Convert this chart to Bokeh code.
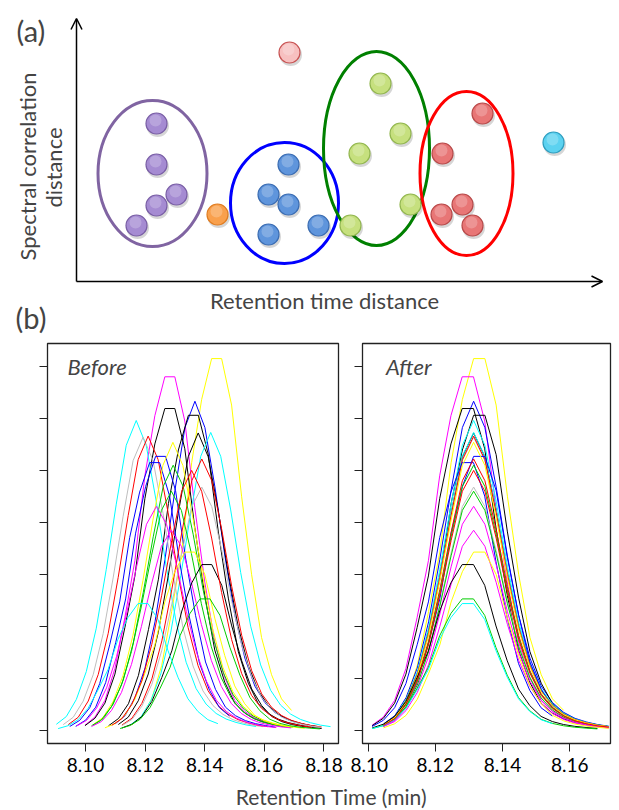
import numpy as np
from bokeh.plotting import figure
from bokeh.models import (Range1d, FixedTicker, Label, Arrow, OpenHead,
                          PrintfTickFormatter)
from bokeh.layouts import column, row
from bokeh.embed import file_html
from bokeh.resources import INLINE

FONT = "Lato"

# ---------------- panel (a): clustering sketch (arbitrary units) ----------------
purple_x = [8.0, 8.0, 10.0, 8.0, 6.0]
purple_y = [15.8, 11.7, 8.7, 7.6, 5.6]
orange_x = [14.1]
orange_y = [6.7]
blue_x = [21.2, 19.2, 21.2, 19.2, 24.2]
blue_y = [11.7, 8.7, 7.7, 4.7, 5.6]
pink_x = [21.3]
pink_y = [22.9]
green_x = [30.4, 32.4, 28.3, 33.4, 27.4]
green_y = [19.8, 14.8, 12.8, 7.7, 5.6]
red_x = [40.6, 36.6, 38.6, 36.5, 39.6]
red_y = [16.8, 12.8, 7.7, 6.7, 5.6]
cyan_x = [47.7]
cyan_y = [13.9]

# cluster ellipses: centre, width, height
ell_x = [7.6, 20.8, 30.0, 39.0]
ell_y = [10.8, 7.85, 13.3, 10.8]
ell_w = [10.9, 10.8, 10.6, 9.3]
ell_h = [14.6, 12.1, 19.4, 16.4]
ell_color = ["#8064a2", "#0000ff", "#008000", "#ff0000"]

# ---------------- panel (b): chromatographic peaks ----------------
STEP = 0.00335  # sampling interval (min)
# relative intensity at offsets -8 .. +12 sampling points from the apex
PROFILE_PEAKED = [0.02, 0.045, 0.10, 0.19, 0.33, 0.52, 0.73, 0.92, 1.00, 0.92,
                  0.74, 0.53, 0.35, 0.22, 0.135, 0.085, 0.055, 0.037, 0.026,
                  0.018, 0.013]
PROFILE_FLAT = [0.015, 0.038, 0.085, 0.175, 0.32, 0.48, 0.72, 0.89, 1.00, 1.00,
                0.875, 0.63, 0.42, 0.25, 0.15, 0.085, 0.054, 0.036, 0.025,
                0.018, 0.012]

peak_color = ["yellow", "magenta", "blue", "black", "black", "cyan", "black",
              "cyan", "gray", "red", "blue", "blue", "red", "green", "yellow",
              "gray", "green", "magenta", "magenta", "yellow", "black", "green",
              "cyan", "red"]
peak_height = [7.15, 6.80, 6.33, 6.19, 6.06, 5.96, 5.72, 5.73, 5.64, 5.66, 5.27,
               5.15, 5.22, 5.10, 5.54, 4.68, 4.60, 4.31, 3.85, 3.43, 3.19, 2.53,
               2.44, 5.00]
peak_rt_before = [8.1423, 8.1266, 8.1367, 8.1266, 8.1345, 8.1170, 8.1378, 8.1420,
                  8.1193, 8.1210, 8.1235, 8.1215, 8.1390, 8.1294, 8.1293, 8.1390,
                  8.1288, 8.1238, 8.1288, 8.1333, 8.1390, 8.1384, 8.1176, 8.1356]
peak_rt_after = [8.1314, 8.1280, 8.1314, 8.1280, 8.1314, 8.1314, 8.1314, 8.1314,
                 8.1314, 8.1314, 8.1314, 8.1280, 8.1314, 8.1314, 8.1314, 8.1314,
                 8.1314, 8.1314, 8.1314, 8.1314, 8.1280, 8.1280, 8.1280, 8.1314]
peak_flat = [1, 1, 0, 1, 1, 0, 0, 0, 0, 0, 1, 1, 0, 0, 0, 0, 0, 0, 0, 1, 1, 1, 1, 0]
peak_n_right = [8, 12, 12, 12, 12, 12, 12, 12, 12, 12, 12, 8, 12, 12, 12, 12, 12,
                12, 12, 12, 12, 12, 8, 12]

intensity_ticks = [0, 1, 2, 3, 4, 5, 6, 7]
before_ticks = [8.10, 8.12, 8.14, 8.16, 8.18]
after_ticks = [8.10, 8.12, 8.14, 8.16]

R_COLORS = {"black": "#000000", "red": "#FF0000", "green": "#00CD00",
            "blue": "#0000FF", "cyan": "#00FFFF", "magenta": "#FF00FF",
            "yellow": "#FFFF00", "gray": "#BEBEBE"}

# ======================= figure A (also holds the "(b)" tag) =======================
pA = figure(width=619, height=340, x_range=Range1d(-7.6, 54.3),
            y_range=Range1d(-5.9, 28.1), output_backend="svg",
            toolbar_location=None, min_border=0,
            x_axis_location=None, y_axis_location=None)
pA.grid.visible = False
pA.outline_line_color = None

pA.add_layout(Arrow(end=OpenHead(size=11, line_width=1.5, line_color="black"),
                    x_start=0, y_start=0, x_end=0, y_end=26.3,
                    line_width=1.5, line_color="black"))
pA.add_layout(Arrow(end=OpenHead(size=11, line_width=1.5, line_color="black"),
                    x_start=0, y_start=0, x_end=52.6, y_end=0,
                    line_width=1.5, line_color="black"))

pA.ellipse(x=ell_x, y=ell_y, width=ell_w, height=ell_h, fill_color=None,
           line_color=ell_color, line_width=3)

balls = [
    (purple_x, purple_y, "#a58bd2", "#7a5fa6"),
    (orange_x, orange_y, "#f9a04c", "#e07d22"),
    (blue_x, blue_y, "#5f95dc", "#3b6db3"),
    (pink_x, pink_y, "#f7c0c0", "#c85454"),
    (green_x, green_y, "#c6e07e", "#93b750"),
    (red_x, red_y, "#e87676", "#b94a4a"),
    (cyan_x, cyan_y, "#5cd2f0", "#2f9fc0"),
]
R = 1.05
for bx, by, fc, lc in balls:
    bx = np.array(bx)
    by = np.array(by)
    pA.circle(bx + 0.12, by - 0.22, radius=R + 0.08, fill_color="#000000",
              fill_alpha=0.16, line_color=None)
    pA.circle(bx, by, radius=R, fill_color=fc, line_color=lc, line_width=1.2)
    pA.circle(bx - 0.1, by + 0.3, radius=0.6, fill_color="white",
              fill_alpha=0.22, line_color=None)

pA.add_layout(Label(x=-6.0, y=25.1, text="(a)", text_font=FONT,
                    text_font_size="29px", text_baseline="middle",
                    text_align="left"))
pA.add_layout(Label(x=-6.1, y=-3.6, text="(b)", text_font=FONT,
                    text_font_size="29px", text_baseline="middle",
                    text_align="left"))
pA.add_layout(Label(x=24.8, y=-1.9, text="Retention time distance",
                    text_font=FONT, text_font_size="22px",
                    text_baseline="middle", text_align="center"))
pA.add_layout(Label(x=-4.9, y=11.5, text="Spectral correlation", angle=np.pi / 2,
                    text_font=FONT, text_font_size="22px",
                    text_baseline="middle", text_align="center"))
pA.add_layout(Label(x=-2.3, y=11.4, text="distance", angle=np.pi / 2,
                    text_font=FONT, text_font_size="22px",
                    text_baseline="middle", text_align="center"))


# ======================= figure B =======================
def peak_curve(i, apex):
    prof = PROFILE_FLAT if peak_flat[i] else PROFILE_PEAKED
    js = list(range(-8, peak_n_right[i] + 1))
    xs = [apex + j * STEP for j in js]
    ys = [peak_height[i] * prof[j + 8] for j in js]
    return xs, ys


def style_panel(p, ticks):
    p.grid.visible = False
    p.outline_line_color = "#222222"
    p.outline_line_width = 1.3
    for ax in (p.xaxis[0], p.yaxis[0]):
        ax.axis_line_color = "#222222"
        ax.major_tick_line_color = "#222222"
        ax.major_tick_out = 8
        ax.major_tick_in = 0
        ax.minor_tick_line_color = None
    p.xaxis.ticker = FixedTicker(ticks=ticks)
    p.xaxis.formatter = PrintfTickFormatter(format="%.2f")
    p.xaxis.major_label_text_font = FONT
    p.xaxis.major_label_text_font_size = "19px"
    p.xaxis.major_label_text_color = "black"
    p.xaxis.major_label_standoff = 6
    p.yaxis.ticker = FixedTicker(ticks=intensity_ticks)
    p.yaxis.major_label_overrides = {t: "" for t in intensity_ticks}
    p.yaxis.major_label_standoff = 0


pB = figure(width=350, height=443, x_range=Range1d(8.08723, 8.18487),
            y_range=Range1d(-0.25, 7.44), output_backend="svg",
            toolbar_location=None, min_border_left=47, min_border_right=12,
            min_border_top=3, min_border_bottom=40)
style_panel(pB, before_ticks)
pC = figure(width=269, height=443, x_range=Range1d(8.09834, 8.17212),
            y_range=Range1d(-0.25, 7.44), output_backend="svg",
            toolbar_location=None, min_border_left=12, min_border_right=9,
            min_border_top=3, min_border_bottom=40)
style_panel(pC, after_ticks)

for i in range(len(peak_height)):
    xs, ys = peak_curve(i, peak_rt_before[i])
    pB.line(xs, ys, line_color=R_COLORS[peak_color[i]], line_width=1)
    xs, ys = peak_curve(i, peak_rt_after[i])
    pC.line(xs, ys, line_color=R_COLORS[peak_color[i]], line_width=1)

pB.add_layout(Label(x=8.0939, y=7.25, text="Before", text_font=FONT,
                    text_font_style="italic", text_font_size="22px",
                    text_baseline="top", text_align="left"))
pC.add_layout(Label(x=8.1053, y=7.25, text="After", text_font=FONT,
                    text_font_style="italic", text_font_size="22px",
                    text_baseline="top", text_align="left"))
pB.add_layout(Label(x=8.0772, y=3.63, text="Intensity", angle=np.pi / 2,
                    text_font=FONT, text_font_size="21px",
                    text_baseline="middle", text_align="center"))

# ======================= shared x title =======================
pT = figure(width=619, height=27, x_range=Range1d(0, 619), y_range=Range1d(0, 27),
            output_backend="svg", toolbar_location=None, min_border=0,
            x_axis_location=None, y_axis_location=None)
pT.grid.visible = False
pT.outline_line_color = None
pT.add_layout(Label(x=331, y=14.5, text="Retention Time (min)", text_font=FONT,
                    text_font_size="21px", text_baseline="middle",
                    text_align="center"))

layout = column(pA, row(pB, pC), pT)
open("out.html", "w").write(file_html(layout, INLINE))
